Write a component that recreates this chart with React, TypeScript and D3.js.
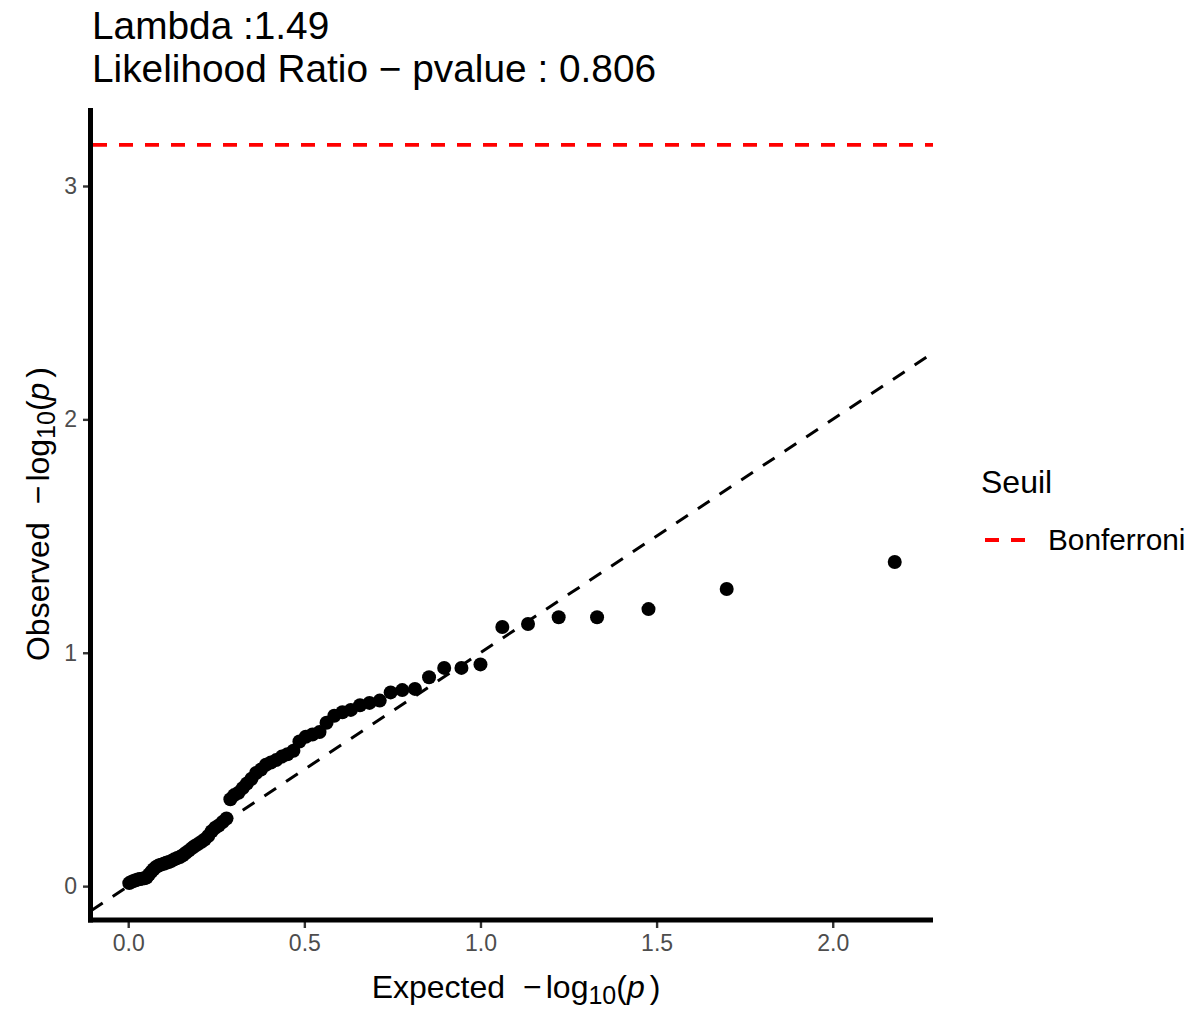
import React, { useRef, useEffect } from 'react';
import * as d3 from 'd3';

// expected -log10(p) quantiles (75 tests), highest first
const expected = [
  2.176, 1.699, 1.477, 1.331, 1.222, 1.135, 1.062, 1.0, 0.946, 0.897,
  0.854, 0.814, 0.778, 0.745, 0.714, 0.685, 0.658, 0.632, 0.608, 0.585,
  0.563, 0.543, 0.523, 0.504, 0.486, 0.469, 0.452, 0.436, 0.42, 0.405,
  0.391, 0.377, 0.363, 0.35, 0.337, 0.325, 0.313, 0.301, 0.29, 0.279,
  0.268, 0.257, 0.247, 0.237, 0.227, 0.217, 0.208, 0.198, 0.189, 0.181,
  0.172, 0.163, 0.155, 0.147, 0.139, 0.131, 0.123, 0.115, 0.108, 0.101,
  0.093, 0.086, 0.079, 0.072, 0.066, 0.059, 0.052, 0.046, 0.039, 0.033,
  0.027, 0.021, 0.015, 0.009, 0.003
];

// observed -log10(p), sorted the same way
const observed = [
  1.389, 1.273, 1.187, 1.152, 1.152, 1.123, 1.11, 0.95, 0.935, 0.935,
  0.895, 0.845, 0.84, 0.83, 0.795, 0.785, 0.775, 0.755, 0.745, 0.73,
  0.7, 0.66, 0.65, 0.64, 0.62, 0.58, 0.565, 0.555, 0.54, 0.53,
  0.52, 0.5, 0.485, 0.46, 0.44, 0.42, 0.4, 0.39, 0.372, 0.29,
  0.275, 0.26, 0.25, 0.235, 0.215, 0.2, 0.19, 0.18, 0.172, 0.163,
  0.152, 0.142, 0.132, 0.125, 0.12, 0.115, 0.108, 0.103, 0.1, 0.096,
  0.092, 0.088, 0.082, 0.072, 0.062, 0.05, 0.037, 0.034, 0.032, 0.03,
  0.028, 0.025, 0.022, 0.018, 0.013
];

const bonferroni = 3.176;
const xTicks = [0, 0.5, 1, 1.5, 2];
const yTicks = [0, 1, 2, 3];
const titleLines = ['Lambda :1.49', 'Likelihood Ratio \u2212 pvalue : 0.806'];
const legendTitle = 'Seuil';
const legendLabel = 'Bonferroni';

const W = 1196;
const H = 1010;
const FONT = '"Liberation Sans", Arial, sans-serif';
const DASH = '14 12';

const expand = (lo: number, hi: number) => {
  const r = hi - lo;
  return [lo - r * 0.05, hi + r * 0.05];
};

const App = () => {
  const svgRef = useRef<SVGSVGElement>(null);

  useEffect(() => {
    const svg = d3.select(svgRef.current);
    svg.selectAll('*').remove();

    const panel = { left: 91, right: 933, top: 108, bottom: 920 };

    const xDom = expand(d3.min(expected)!, d3.max(expected)!);
    const yDom = expand(d3.min(observed)!, Math.max(d3.max(observed)!, bonferroni));

    const x = d3.scaleLinear().domain(xDom).range([panel.left, panel.right]);
    const y = d3.scaleLinear().domain(yDom).range([panel.bottom, panel.top]);

    svg.append('rect').attr('width', W).attr('height', H).attr('fill', 'white');

    const defs = svg.append('defs');
    defs.append('clipPath').attr('id', 'panel-clip')
      .append('rect')
      .attr('x', panel.left).attr('y', panel.top)
      .attr('width', panel.right - panel.left)
      .attr('height', panel.bottom - panel.top);

    const plot = svg.append('g').attr('clip-path', 'url(#panel-clip)');

    // y = x reference line
    plot.append('line')
      .attr('x1', x(xDom[0])).attr('y1', y(xDom[0]))
      .attr('x2', x(xDom[1])).attr('y2', y(xDom[1]))
      .attr('stroke', '#000')
      .attr('stroke-width', 3)
      .attr('stroke-dasharray', DASH);

    // Bonferroni threshold
    plot.append('line')
      .attr('x1', panel.left + 2).attr('x2', panel.right)
      .attr('y1', y(bonferroni)).attr('y2', y(bonferroni))
      .attr('stroke', '#FF0000')
      .attr('stroke-width', 3.8)
      .attr('stroke-dasharray', DASH);

    plot.selectAll('.pt')
      .data(expected)
      .enter()
      .append('circle')
      .attr('class', 'pt')
      .attr('cx', d => x(d))
      .attr('cy', (d, i) => y(observed[i]))
      .attr('r', 7)
      .attr('fill', '#000');

    // axes
    const xAxis = svg.append('g')
      .attr('transform', `translate(0,${panel.bottom})`)
      .call(d3.axisBottom(x).tickValues(xTicks).tickFormat(d3.format('.1f')).tickSize(8).tickPadding(6));
    const yAxis = svg.append('g')
      .attr('transform', `translate(${panel.left},0)`)
      .call(d3.axisLeft(y).tickValues(yTicks).tickFormat(d3.format('d')).tickSize(8).tickPadding(6));

    [xAxis, yAxis].forEach(ax => {
      ax.select('.domain').remove();
      ax.selectAll('.tick line').attr('stroke', '#333333').attr('stroke-width', 2.4);
      ax.selectAll('.tick text')
        .attr('fill', '#4D4D4D')
        .style('font-family', FONT)
        .style('font-size', '23px');
    });
    xAxis.selectAll('.tick text').attr('dy', '0.75em');

    svg.append('line')
      .attr('x1', panel.left - 0.5).attr('x2', panel.left - 0.5)
      .attr('y1', panel.top).attr('y2', panel.bottom + 2.5)
      .attr('stroke', '#000').attr('stroke-width', 5);
    svg.append('line')
      .attr('x1', panel.left - 3).attr('x2', panel.right)
      .attr('y1', panel.bottom).attr('y2', panel.bottom)
      .attr('stroke', '#000').attr('stroke-width', 5);

    // axis titles: label  −log10(p)
    const axisTitle = (g: any, label: string) => {
      g.append('tspan').text(label);
      g.append('tspan').attr('dx', 18).text('\u2212');
      g.append('tspan').attr('dx', 4).text('log');
      g.append('tspan').attr('dy', 6).style('font-size', '25px').text('10');
      g.append('tspan').attr('dy', -6).text('(');
      g.append('tspan').style('font-style', 'italic').text('p');
      g.append('tspan').attr('dx', 5).text(')');
    };

    const xt = svg.append('text')
      .attr('x', (panel.left + panel.right) / 2 + 4)
      .attr('y', 998)
      .attr('text-anchor', 'middle')
      .style('font-family', FONT)
      .style('font-size', '32px')
      .attr('fill', '#000');
    axisTitle(xt, 'Expected');

    const yt = svg.append('text')
      .attr('transform', `translate(49,${(panel.top + panel.bottom) / 2}) rotate(-90)`)
      .attr('text-anchor', 'middle')
      .style('font-family', FONT)
      .style('font-size', '32px')
      .attr('fill', '#000');
    axisTitle(yt, 'Observed');

    // title
    titleLines.forEach((t, i) => {
      svg.append('text')
        .attr('x', 92)
        .attr('y', 39 + i * 43)
        .style('font-family', FONT)
        .style('font-size', '38.8px')
        .attr('fill', '#000')
        .text(t);
    });

    // legend
    const legend = svg.append('g');
    legend.append('text')
      .attr('x', 981).attr('y', 493)
      .style('font-family', FONT)
      .style('font-size', '32px')
      .attr('fill', '#000')
      .text(legendTitle);
    legend.append('line')
      .attr('x1', 985).attr('x2', 1025)
      .attr('y1', 540).attr('y2', 540)
      .attr('stroke', '#FF0000')
      .attr('stroke-width', 3.8)
      .attr('stroke-dasharray', DASH);
    legend.append('text')
      .attr('x', 1048).attr('y', 550)
      .style('font-family', FONT)
      .style('font-size', '29.8px')
      .attr('fill', '#000')
      .text(legendLabel);
  }, []);

  return (
    <div style={{ position: 'absolute', left: 0, top: 0 }}>
      <svg ref={svgRef} width={W} height={H} style={{ display: 'block' }}></svg>
    </div>
  );
};

export default App;
